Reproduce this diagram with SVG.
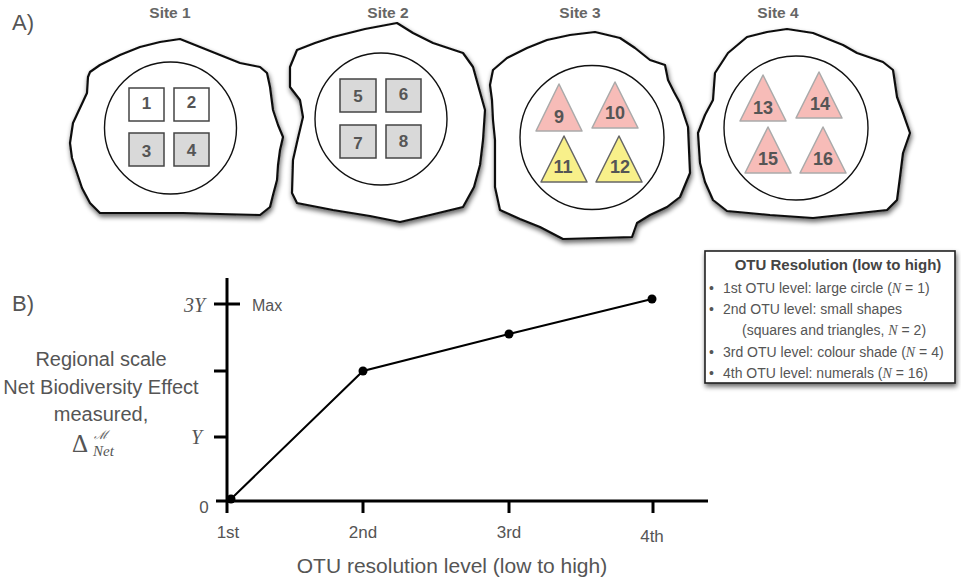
<svg xmlns="http://www.w3.org/2000/svg" width="961" height="581" viewBox="0 0 961 581">
<defs>
<filter id="shadow" x="-10%" y="-10%" width="120%" height="125%">
<feGaussianBlur in="SourceAlpha" stdDeviation="2.4" result="b"/>
<feOffset in="b" dx="1" dy="3" result="o"/>
<feComponentTransfer in="o" result="s"><feFuncA type="linear" slope="0.6"/></feComponentTransfer>
<feMerge><feMergeNode in="s"/><feMergeNode in="SourceGraphic"/></feMerge>
</filter>
</defs>
<style>
.blob{fill:#fff;stroke:#111;stroke-width:2.2;stroke-linejoin:round}
.circ{fill:none;stroke:#111;stroke-width:1.4}
.sq{stroke:#444;stroke-width:1.5}
.w{fill:#fff}.g{fill:#d9d9d9}
.pk{fill:#f7bcb8;stroke:#aaa;stroke-width:1.5;stroke-linejoin:round}
.yl{fill:#f8f08a;stroke:#666;stroke-width:1.5;stroke-linejoin:round}
.num{font-family:"Liberation Sans",Arial,sans-serif;font-weight:bold;font-size:17px;fill:#555;text-anchor:middle}
.tnum{font-family:"Liberation Sans",Arial,sans-serif;font-weight:bold;font-size:18px;fill:#555;text-anchor:middle}
.site{font-family:"Liberation Sans",Arial,sans-serif;font-weight:bold;font-size:15.5px;fill:#666;text-anchor:middle}
.lab{font-family:"Liberation Sans",Arial,sans-serif;font-size:22px;fill:#555}
.ax{stroke:#000;stroke-width:3;fill:none}
.line{stroke:#000;stroke-width:2;fill:none}
.tk{font-family:"Liberation Sans",Arial,sans-serif;font-size:17px;fill:#555;text-anchor:middle}
.max{font-family:"Liberation Sans",Arial,sans-serif;font-size:16px;fill:#555}
.xt{font-family:"Liberation Sans",Arial,sans-serif;font-size:21px;fill:#555;text-anchor:middle}
.mth{font-family:"Liberation Serif","Times New Roman",serif;font-style:italic;fill:#555}
.mr{text-anchor:end;font-size:20px}
.yl2{font-family:"Liberation Sans",Arial,sans-serif;font-size:20px;fill:#555;text-anchor:middle}
.lg{font-family:"Liberation Sans",Arial,sans-serif;font-size:14px;fill:#555}
.lgt{font-family:"Liberation Sans",Arial,sans-serif;font-size:15px;font-weight:bold;fill:#444;text-anchor:middle}
</style>

<text class="lab" x="12" y="30">A)</text>
<text class="lab" x="12" y="311">B)</text>

<g id="site1">
<text class="site" x="170" y="18">Site 1</text>
<path class="blob" filter="url(#shadow)" d="M90,72 L100,65 L120,55 L140,47 L160,42 L180,39 L200,47 L220,55 L240,63 L260,67 L267,73 L270,87 L273,110 L278,125 L283,137 L280,150 L278,165 L277,180 L273,195 L270,207 L260,215 L220,214 L183,213 L140,213 L100,213 L90,203 L82,188 L77,173 L72,158 L70,143 L73,123 L80,108 L87,93 L88,77 Z"/>
<circle class="circ" cx="170.5" cy="128" r="66"/>
<rect class="sq w" x="129" y="88" width="35" height="33"/>
<rect class="sq w" x="174" y="88" width="35" height="33"/>
<rect class="sq g" x="129" y="133" width="35" height="33"/>
<rect class="sq g" x="174" y="133" width="35" height="33"/>
<text class="num" x="146.5" y="109">1</text>
<text class="num" x="191.5" y="108">2</text>
<text class="num" x="146.5" y="157">3</text>
<text class="num" x="191.5" y="156">4</text>
</g>

<g id="site2">
<text class="site" x="388" y="18">Site 2</text>
<path class="blob" filter="url(#shadow)" d="M290,67 L297,50 L315,43 L333,37 L365,29 L397,23 L413,33 L433,43 L463,53 L473,67 L478,85 L485,110 L483,140 L480,165 L474,187 L463,207 L430,215 L400,222 L370,216 L333,210 L297,203 L292,193 L293,160 L298,138 L303,117 L300,100 L290,87 Z"/>
<circle class="circ" cx="381" cy="119" r="66"/>
<rect class="sq g" x="340" y="79" width="36" height="33"/>
<rect class="sq g" x="386" y="79" width="35" height="33"/>
<rect class="sq g" x="340" y="125" width="36" height="33"/>
<rect class="sq g" x="386" y="125" width="35" height="33"/>
<text class="num" x="358" y="101.5">5</text>
<text class="num" x="403.5" y="100">6</text>
<text class="num" x="358" y="148.5">7</text>
<text class="num" x="403.5" y="147">8</text>
</g>

<g id="site3">
<text class="site" x="580" y="18">Site 3</text>
<path class="blob" filter="url(#shadow)" d="M493,70 L507,58 L527,48 L547,40 L570,35 L595,32 L620,38 L635,48 L650,60 L665,65 L668,80 L674,92 L680,103 L688,127 L689,150 L690,173 L680,197 L667,207 L650,215 L637,223 L632,237 L598,238 L563,239 L540,227 L520,219 L500,210 L495,187 L495,160 L495,140 L493,120 L492,100 L490,85 Z"/>
<circle class="circ" cx="592" cy="137.5" r="72"/>
<polygon class="pk" points="559,84 582,131 536,131"/>
<polygon class="pk" points="615,82 638,128 592,128"/>
<polygon class="yl" points="564,136 587,182 541,182"/>
<polygon class="yl" points="619,136 642,182 596,182"/>
<text class="tnum" x="559" y="123">9</text>
<text class="tnum" x="615" y="119">10</text>
<text class="tnum" x="563" y="173">11</text>
<text class="tnum" x="620" y="173">12</text>
</g>

<g id="site4">
<text class="site" x="778" y="18">Site 4</text>
<path class="blob" filter="url(#shadow)" d="M715,73 L728,53 L747,37 L767,32 L787,29 L813,33 L843,45 L857,53 L883,62 L893,70 L897,97 L903,113 L910,133 L903,153 L900,177 L897,200 L887,210 L850,214 L813,218 L770,215 L727,211 L713,200 L705,182 L700,163 L698,133 L705,115 L713,100 Z"/>
<circle class="circ" cx="796" cy="128" r="72"/>
<polygon class="pk" points="763,75 786,121 740,121"/>
<polygon class="pk" points="819,72 842,118 796,118"/>
<polygon class="pk" points="768,127 791,173 745,173"/>
<polygon class="pk" points="823,127 846,173 800,173"/>
<text class="tnum" x="763" y="113.5">13</text>
<text class="tnum" x="820" y="110">14</text>
<text class="tnum" x="768" y="165">15</text>
<text class="tnum" x="823" y="165">16</text>
</g>

<g id="legend">
<rect x="705" y="251" width="250" height="132" fill="#fff" stroke="#222" stroke-width="1.6" filter="url(#shadow)"/>
<text class="lgt" x="838" y="270">OTU Resolution (low to high)</text>
<text class="lg" x="709" y="293">•</text>
<text class="lg" x="723" y="293">1st OTU level: large circle (<tspan class="mth">N</tspan> = 1)</text>
<text class="lg" x="709" y="314">•</text>
<text class="lg" x="723" y="314">2nd OTU level: small shapes</text>
<text class="lg" x="742" y="335">(squares and triangles, <tspan class="mth">N</tspan> = 2)</text>
<text class="lg" x="709" y="357">•</text>
<text class="lg" x="723" y="357">3rd OTU level: colour shade (<tspan class="mth">N</tspan> = 4)</text>
<text class="lg" x="709" y="378">•</text>
<text class="lg" x="723" y="378">4th OTU level: numerals (<tspan class="mth">N</tspan> = 16)</text>
</g>

<g id="axes">
<line class="ax" x1="227" y1="278" x2="227" y2="513"/>
<line class="ax" x1="216" y1="501" x2="708" y2="501"/>
<line class="ax" x1="214" y1="304" x2="240" y2="304"/>
<line class="ax" x1="214" y1="371" x2="227" y2="371"/>
<line class="ax" x1="214" y1="437" x2="227" y2="437"/>
<line class="ax" x1="363" y1="501" x2="363" y2="513"/>
<line class="ax" x1="509" y1="501" x2="509" y2="513"/>
<line class="ax" x1="653" y1="501" x2="653" y2="513"/>
<text class="mth mr" x="205" y="312">3Y</text>
<text class="mth mr" x="202" y="444">Y</text>
<text class="tk" x="204" y="513">0</text>
<text class="max" x="252" y="311">Max</text>
<text class="tk" x="228" y="538">1st</text>
<text class="tk" x="363" y="538">2nd</text>
<text class="tk" x="509" y="538">3rd</text>
<text class="tk" x="652" y="542">4th</text>
<text class="xt" x="452" y="573">OTU resolution level (low to high)</text>
<text class="yl2" x="101" y="366">Regional scale</text>
<text class="yl2" x="101" y="394">Net Biodiversity Effect</text>
<text class="yl2" x="101" y="421">measured,</text>
<text x="72" y="452" style="font-family:'Liberation Serif',serif;font-size:25px;fill:#555">Δ<tspan x="94" y="439" style="font-family:'DejaVu Serif',serif;font-style:italic;font-size:12px">ℳ</tspan><tspan x="93" y="456" style="font-style:italic;font-size:15px">Net</tspan></text>
</g>

<g id="connectors">
<polyline class="line" points="231,499 363,371 509,334 652,299"/>
<circle cx="231" cy="499" r="4.5"/>
<circle cx="363" cy="371" r="4.5"/>
<circle cx="509" cy="334" r="4.5"/>
<circle cx="652" cy="299" r="4.5"/>
</g>
</svg>
